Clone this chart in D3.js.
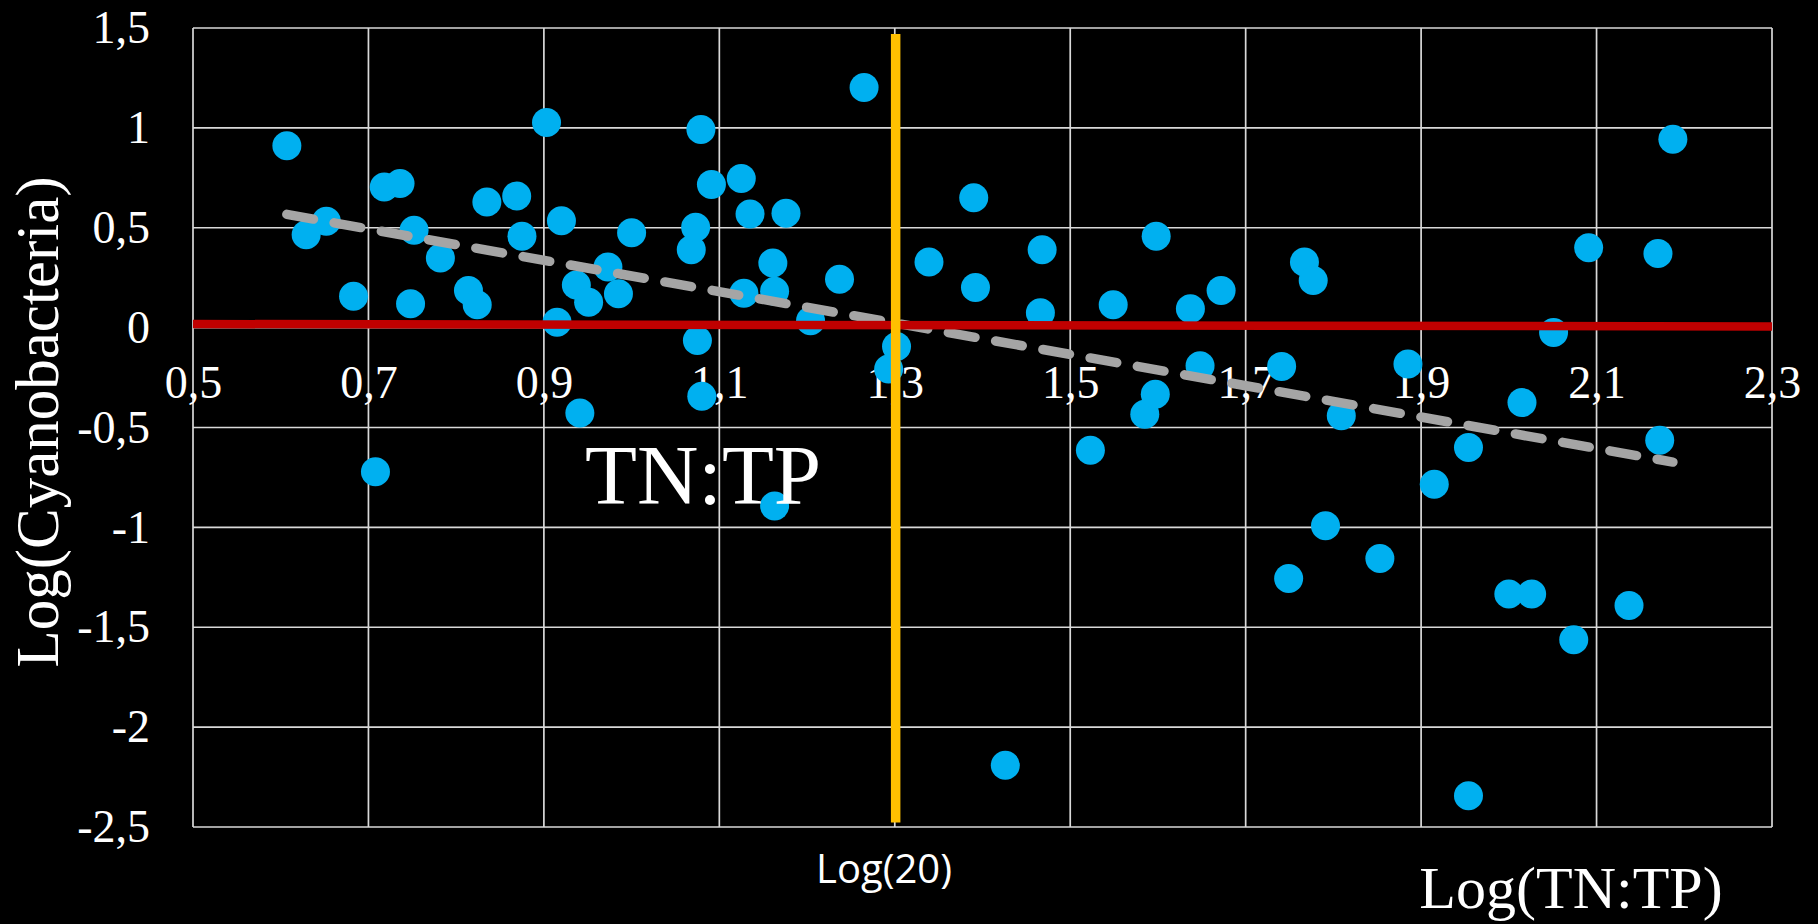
<!DOCTYPE html>
<html>
<head>
<meta charset="utf-8">
<script src="https://cdn.jsdelivr.net/npm/d3@7"></script>
<style>
  html, body { margin: 0; padding: 0; background: #000; }
  svg { display: block; }
</style>
</head>
<body>
<svg id="chart"></svg>
<script>
// log(TN:TP) of each sample
const tnTp = [
  0.607, 0.629, 0.652, 0.683, 0.708, 0.718, 0.736, 0.748, 0.752, 0.782,
  0.814, 0.824, 0.835, 0.869, 0.875, 0.903, 0.915, 0.920, 0.937, 0.941,
  0.951, 0.973, 0.985, 1.000, 1.068, 1.073, 1.075, 1.079, 1.080, 1.091,
  1.125, 1.128, 1.135, 1.161, 1.163, 1.163, 1.176, 1.204, 1.237, 1.265,
  1.293, 1.302, 1.339, 1.390, 1.392, 1.426, 1.466, 1.468, 1.523, 1.549,
  1.585, 1.597, 1.598, 1.637, 1.648, 1.672, 1.741, 1.749, 1.767, 1.777,
  1.791, 1.809, 1.853, 1.885, 1.915, 1.954, 1.954, 2.000, 2.015, 2.026,
  2.051, 2.074, 2.091, 2.137, 2.170, 2.172, 2.187
];
// log(Cyanobacteria) of each sample
const cyano = [
  0.910, 0.465, 0.532, 0.157, -0.721, 0.704, 0.721, 0.119, 0.487, 0.348,
  0.186, 0.115, 0.629, 0.659, 0.457, 1.027, 0.027, 0.535, 0.214, -0.428,
  0.127, 0.303, 0.169, 0.475, 0.390, 0.502, -0.065, 0.992, -0.344, 0.716,
  0.746, 0.172, 0.569, 0.323, 0.182, -0.893, 0.572, 0.035, 0.242, 1.202,
  -0.207, -0.094, 0.328, 0.650, 0.201, -2.191, 0.074, 0.390, -0.614, 0.114,
  -0.434, -0.334, 0.457, 0.095, -0.191, 0.186, -0.194, -1.256, 0.328, 0.236,
  -0.992, -0.441, -1.156, -0.182, -0.784, -0.600, -2.343, -1.334, -0.375, -1.334,
  -0.025, -1.562, 0.400, -1.391, 0.371, -0.564, 0.943
];

// trend line and reference lines
const trendX = [0.607, 2.187];
const trendY = [0.567, -0.673];
const zeroLineX = [0.5, 2.3];
const zeroLineY = [0.018, 0.006];
const log20 = 1.301;
const log20Y = [1.47, -2.477];

const xTicks = [0.5, 0.7, 0.9, 1.1, 1.3, 1.5, 1.7, 1.9, 2.1, 2.3];
const yTicks = [1.5, 1, 0.5, 0, -0.5, -1, -1.5, -2, -2.5];

const W = 1818, H = 924;
const plotLeft = 193, plotRight = 1772, plotTop = 28, plotBottom = 827;
const serif = "'Liberation Serif', 'Times New Roman', serif";
const fmt = d => String(d).replace(".", ",");

const svg = d3.select("#chart").attr("width", W).attr("height", H);
svg.append("rect").attr("width", W).attr("height", H).attr("fill", "#000");

const x = d3.scaleLinear().domain([0.5, 2.3]).range([plotLeft, plotRight]);
const y = d3.scaleLinear().domain([-2.5, 1.5]).range([plotBottom, plotTop]);

// grid
const grid = svg.append("g").attr("stroke", "#d9d9d9").attr("stroke-width", 1.7);
grid.selectAll("line.v").data(xTicks).enter().append("line")
  .attr("x1", d => x(d)).attr("x2", d => x(d))
  .attr("y1", y(1.5)).attr("y2", y(-2.5));
grid.selectAll("line.h").data(yTicks).enter().append("line")
  .attr("x1", x(0.5)).attr("x2", x(2.3))
  .attr("y1", d => y(d)).attr("y2", d => y(d));

// axes (labels only)
const yAxis = svg.append("g")
  .attr("transform", "translate(" + plotLeft + ",0)")
  .call(d3.axisLeft(y).tickValues(yTicks).tickFormat(fmt).tickSize(0).tickPadding(43));
const xAxis = svg.append("g")
  .attr("transform", "translate(0," + y(0) + ")")
  .call(d3.axisBottom(x).tickValues(xTicks).tickFormat(fmt).tickSize(0).tickPadding(38));
[xAxis, yAxis].forEach(a => {
  a.attr("font-family", serif).attr("font-size", 46);
  a.select(".domain").remove();
  a.selectAll("text").attr("fill", "#fff");
});

// points
const pts = tnTp.map((v, i) => ({ x: v, y: cyano[i] }));
svg.append("g").selectAll("circle").data(pts).enter().append("circle")
  .attr("cx", d => x(d.x))
  .attr("cy", d => y(d.y))
  .attr("r", 14.5)
  .attr("fill", "#00b0f0");

// trend line
const line = d3.line().x(d => x(d[0])).y(d => y(d[1]));
svg.append("path")
  .datum(trendX.map((v, i) => [v, trendY[i]]))
  .attr("d", line)
  .attr("fill", "none")
  .attr("stroke", "#a5a5a5")
  .attr("stroke-width", 9.5)
  .attr("stroke-linecap", "round")
  .attr("stroke-dasharray", "27,21");

// zero reference line
svg.append("path")
  .datum(zeroLineX.map((v, i) => [v, zeroLineY[i]]))
  .attr("d", line)
  .attr("fill", "none")
  .attr("stroke", "#c00000")
  .attr("stroke-width", 8.5);

// log(20) marker
svg.append("line")
  .attr("x1", x(log20)).attr("x2", x(log20))
  .attr("y1", y(log20Y[0])).attr("y2", y(log20Y[1]))
  .attr("stroke", "#ffc000")
  .attr("stroke-width", 9.5);

// labels
svg.append("text")
  .attr("transform", "translate(58,422) rotate(-90)")
  .attr("text-anchor", "middle")
  .attr("fill", "#fff")
  .style("font-family", serif)
  .style("font-size", "61px")
  .text("Log(Cyanobacteria)");

svg.append("text")
  .attr("x", 585).attr("y", 504)
  .attr("fill", "#fff")
  .style("font-family", serif)
  .style("font-size", "85px")
  .text("TN:TP");

svg.append("text")
  .attr("x", 1571).attr("y", 908)
  .attr("text-anchor", "middle")
  .attr("fill", "#fff")
  .style("font-family", serif)
  .style("font-size", "60px")
  .text("Log(TN:TP)");

svg.append("text")
  .attr("x", 884).attr("y", 883)
  .attr("text-anchor", "middle")
  .attr("fill", "#fff")
  .style("font-family", "'Open Sans', 'Noto Sans', sans-serif")
  .style("font-size", "40px")
  .text("Log(20)");
</script>
</body>
</html>
